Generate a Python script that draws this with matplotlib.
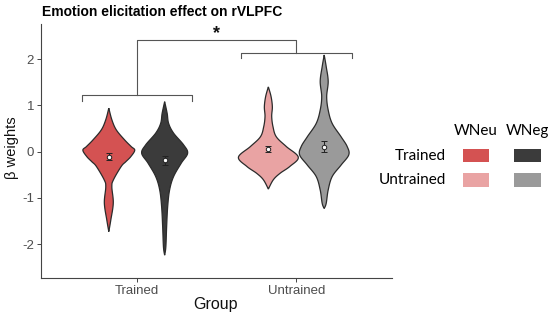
import numpy as np
import matplotlib
matplotlib.use("Agg")
import matplotlib.pyplot as plt
from matplotlib.patches import Rectangle

plt.rcParams['font.family'] = ['Liberation Sans', 'DejaVu Sans']

# ---------------- data ----------------
groups = ["Trained", "Untrained"]
conditions = ["WNeu", "WNeg"]
colors = {("Trained", "WNeu"): "#D45252", ("Trained", "WNeg"): "#3B3B3B",
          ("Untrained", "WNeu"): "#E9A3A3", ("Untrained", "WNeg"): "#9A9A9A"}

# violin profiles: y values and half-widths (x data units)
tn_y = [0.94, 0.69, 0.47, 0.25, 0.11, 0.03, -0.11, -0.22, -0.32, -0.61, -0.76, -1.11, -1.48, -1.73]
tn_w = [0.0, 0.019, 0.047, 0.10, 0.14, 0.1625, 0.1375, 0.106, 0.078, 0.029, 0.019, 0.028, 0.0125, 0.0]
tg_y = [1.08, 0.83, 0.61, 0.40, 0.145, -0.035, -0.25, -0.54, -0.83, -1.19, -1.62, -2.06, -2.24]
tg_w = [0.0, 0.0156, 0.025, 0.056, 0.119, 0.144, 0.104, 0.056, 0.031, 0.019, 0.0125, 0.0075, 0.0]
un_y = [1.40, 1.19, 0.97, 0.76, 0.54, 0.32, 0.11, -0.12, -0.32, -0.47, -0.61, -0.81]
un_w = [0.0, 0.017, 0.025, 0.021, 0.029, 0.05, 0.1125, 0.1875, 0.135, 0.073, 0.031, 0.0]
ug_y = [2.09, 1.84, 1.52, 1.19, 0.90, 0.61, 0.32, 0.11, -0.07, -0.29, -0.54, -0.83, -1.12, -1.23]
ug_w = [0.0, 0.0125, 0.025, 0.0156, 0.025, 0.05, 0.106, 0.144, 0.154, 0.106, 0.05, 0.025, 0.0125, 0.0]

profiles = {("Trained", "WNeu"): (tn_y, tn_w), ("Trained", "WNeg"): (tg_y, tg_w),
            ("Untrained", "WNeu"): (un_y, un_w), ("Untrained", "WNeg"): (ug_y, ug_w)}

means = {("Trained", "WNeu"): -0.11, ("Trained", "WNeg"): -0.19,
         ("Untrained", "WNeu"): 0.06, ("Untrained", "WNeg"): 0.11}
sems = {("Trained", "WNeu"): 0.08, ("Trained", "WNeg"): 0.09,
        ("Untrained", "WNeu"): 0.07, ("Untrained", "WNeg"): 0.12}

yticks = [-2, -1, 0, 1, 2]
title = "Emotion elicitation effect on rVLPFC"


def catmull(ys, ws, n=20):
    P = np.column_stack([ws, ys]).astype(float)
    P = np.vstack([P[0], P, P[-1]])
    out = []
    for i in range(1, len(P) - 2):
        p0, p1, p2, p3 = P[i - 1], P[i], P[i + 1], P[i + 2]
        t = np.linspace(0, 1, n, endpoint=False)[:, None]
        pts = 0.5 * ((2 * p1) + (-p0 + p2) * t + (2 * p0 - 5 * p1 + 4 * p2 - p3) * t ** 2
                     + (-p0 + 3 * p1 - 3 * p2 + p3) * t ** 3)
        out.append(pts)
    out.append(P[-2][None, :])
    out = np.vstack(out)
    out[:, 0] = np.clip(out[:, 0], 0, None)
    return out[:, 1], out[:, 0]


fig = plt.figure(figsize=(5.5, 3.2), dpi=100)
ax = fig.add_axes([41 / 550, (320 - 278.3) / 320, (392 - 41) / 550, (278.3 - 24) / 320])

dodge = 0.175
for gi, g in enumerate(groups):
    for ci, c in enumerate(conditions):
        xc = gi + 1 + (-dodge if ci == 0 else dodge)
        ys, ws = profiles[(g, c)]
        yy, ww = catmull(ys, ws)
        xs = np.concatenate([xc - ww, (xc + ww)[::-1]])
        ysp = np.concatenate([yy, yy[::-1]])
        ax.fill(xs, ysp, facecolor=colors[(g, c)], edgecolor="#2B2B2B", lw=0.9, zorder=2)
        m, s = means[(g, c)], sems[(g, c)]
        ax.errorbar([xc], [m], yerr=[s], fmt="o", ms=3.2, mfc="white", mec="#222222",
                    ecolor="#222222", elinewidth=0.7, capsize=2, capthick=0.7, mew=0.7, zorder=3)

# significance brackets
bc = "#555555"
blw = 0.8
ax.plot([0.656, 0.656, 1.344, 1.344], [1.10, 1.23, 1.23, 1.10], color=bc, lw=blw)
ax.plot([1.656, 1.656, 2.35, 2.35], [2.03, 2.14, 2.14, 2.03], color=bc, lw=blw)
ax.plot([1, 1, 2, 2], [1.23, 2.42, 2.42, 2.14], color=bc, lw=blw)
ax.text(1.5, 2.56, "*", ha="center", va="center", fontsize=13, fontweight="bold", color="#111111")

ax.set_xlim(0.4, 2.6)
ax.set_ylim(-2.74, 2.76)
ax.set_xticks([1, 2])
ax.set_xticklabels(groups)
ax.set_yticks(yticks)
ax.set_yticklabels([str(v) for v in yticks])
for sp in ["top", "right"]:
    ax.spines[sp].set_visible(False)
for sp in ["left", "bottom"]:
    ax.spines[sp].set_color("#444444")
    ax.spines[sp].set_linewidth(0.8)
ax.tick_params(colors="#444444", labelcolor="#4D4D4D", labelsize=9.5, length=3, width=0.7, pad=2)
fig.text(12 / 550, 1 - 148 / 320, "β weights", fontsize=10.5, rotation=90, ha="center", va="center",
         color="#111111")
fig.text(216 / 550, 1 - 304 / 320, "Group", fontsize=11.5, ha="center", va="center", color="#111111")
fig.text(42 / 550, 1 - 12 / 320, title, fontsize=10, fontweight="bold", va="center", ha="left")

# custom legend
lf = ['Lato', 'DejaVu Sans']
fig.text(476 / 550, 1 - 131 / 320, "WNeu", fontsize=11, ha="center", va="center", family=lf)
fig.text(527 / 550, 1 - 131 / 320, "WNeg", fontsize=11, ha="center", va="center", family=lf)
fig.text(446 / 550, 1 - 156 / 320, "Trained", fontsize=11, ha="right", va="center", family=lf)
fig.text(446 / 550, 1 - 180.5 / 320, "Untrained", fontsize=11, ha="right", va="center", family=lf)
for ri, g in enumerate(groups):
    for ci, c in enumerate(conditions):
        x0 = (462.7 if ci == 0 else 514) / 550
        y0 = 1 - (162.3 if ri == 0 else 186.7) / 320
        fig.add_artist(Rectangle((x0, y0), 26.5 / 550, 13.4 / 320, transform=fig.transFigure,
                                 facecolor=colors[(g, c)], edgecolor="none"))

fig.savefig("out.png", dpi=100)
